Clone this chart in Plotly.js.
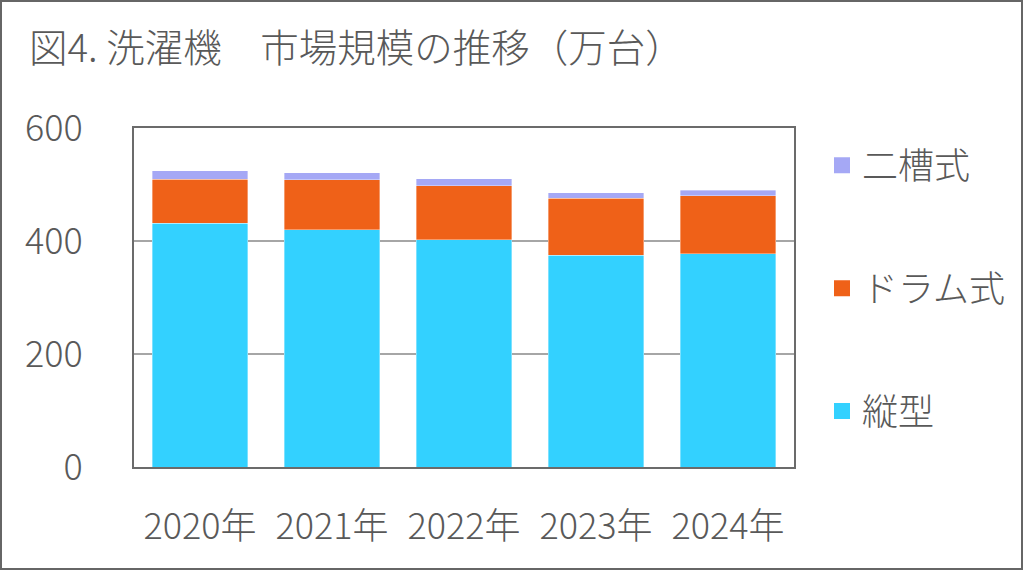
<!DOCTYPE html>
<html>
<head>
<meta charset="utf-8">
<script src="https://cdn.plot.ly/plotly-3.0.1.min.js"></script>
<style>
  html, body { margin: 0; padding: 0; background: #fff; }
  #frame { box-sizing: border-box; width: 1023px; height: 570px; border: 2px solid #666; overflow: hidden; }
  #chart { width: 1019px; height: 566px; }
</style>
</head>
<body>
<div id="frame"><div id="chart"></div></div>
<script>
const years = ["2020年", "2021年", "2022年", "2023年", "2024年"];
const tateGata = [431, 420, 402, 375, 377];   // 縦型
const drumShiki = [78, 88, 96, 101, 103];     // ドラム式
const nisouShiki = [15, 13, 12, 9, 10];       // 二槽式
const seriesNames = ["縦型", "ドラム式", "二槽式"];
const seriesColors = ["#33D1FF", "#EF6118", "#A5A8F5"];
const yTicks = [0, 200, 400, 600];

const FONT = '"Noto Sans CJK JP", "Noto Sans", sans-serif';
const TXT = '#595959';

const seriesValues = [tateGata, drumShiki, nisouShiki];
const traces = [];
seriesValues.forEach((vals, i) => {
  traces.push({
    type: 'bar', x: years, y: vals, name: seriesNames[i],
    showlegend: false,
    marker: { color: seriesColors[i], line: { color: 'rgba(255,255,255,0.6)', width: 0.6 } },
    hoverinfo: 'x+y+name'
  });
});
// legend entries, top to bottom: 二槽式, ドラム式, 縦型
[2, 1, 0].forEach((i) => {
  traces.push({
    type: 'scatter', mode: 'markers', x: [null], y: [null], name: seriesNames[i],
    legendgroup: 'L' + i, showlegend: true,
    marker: { symbol: 'square', size: 18, color: seriesColors[i] }
  });
});

const layout = {
  width: 1019, height: 566,
  margin: { l: 132, r: 227, t: 126, b: 101, autoexpand: false },
  paper_bgcolor: '#fff', plot_bgcolor: '#fff',
  barmode: 'stack', bargap: 0.28,
  font: { family: FONT, color: TXT, size: 35, weight: 300 },
  title: {
    text: '図4. 洗濯機　市場規模の推移（万台）',
    font: { family: FONT, size: 38.5, color: TXT, weight: 300 },
    xref: 'container', yref: 'container',
    x: 27 / 1019, xanchor: 'left', y: 1 - 47 / 566, yanchor: 'middle'
  },
  xaxis: {
    type: 'category', showgrid: false, showline: true, mirror: true,
    linecolor: '#6b6b6b', linewidth: 2, ticks: '', ticklabelstandoff: 27,
    tickfont: { family: FONT, size: 36, color: TXT, weight: 300 },
    fixedrange: true
  },
  yaxis: {
    range: [0, 600], tickvals: yTicks, ticktext: yTicks.map(String),
    showgrid: true, gridcolor: '#A6A6A6', gridwidth: 1.5,
    showline: true, mirror: true, linecolor: '#6b6b6b', linewidth: 2,
    zeroline: false, ticks: '', ticklabelstandoff: 42,
    tickfont: { family: FONT, size: 36, color: TXT, weight: 300 },
    fixedrange: true
  },
  showlegend: true,
  legend: {
    x: (820 - 132) / 660, xanchor: 'left',
    y: 0.978, yanchor: 'top',
    traceorder: 'grouped', tracegroupgap: 73,
    font: { family: FONT, size: 36, color: TXT, weight: 300 },
    bgcolor: 'rgba(0,0,0,0)', borderwidth: 0
  }
};

Plotly.newPlot('chart', traces, layout, { displayModeBar: false, staticPlot: true });
</script>
</body>
</html>
